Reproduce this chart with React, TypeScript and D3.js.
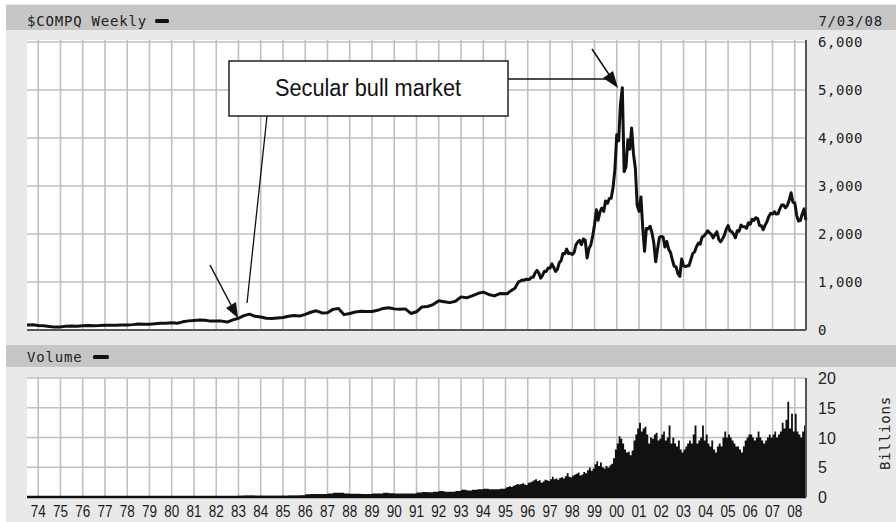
import React from "react";
import * as d3 from "d3";

// Nasdaq composite, quarterly from Jul 1973 to Oct 1994
const quarterlyPrice = [
  105, 110,
  95, 90, 75, 60,
  65, 80, 85, 80,
  90, 92, 90, 92,
  98, 98, 100, 102,
  104, 112, 125, 118,
  120, 130, 140, 140,
  150, 140, 170, 190,
  200, 210, 205, 185,
  190, 185, 165, 210,
  245, 300, 330, 285,
  270, 245, 240, 250,
  260, 285, 300, 290,
  325, 370, 400, 355,
  360, 430, 450, 320,
  345, 375, 390, 385,
  385, 410, 450, 465,
  440, 430, 440, 345,
  380, 480, 490, 530,
  610, 590, 570, 600,
  690, 670, 710, 760,
  790, 740, 710, 760,
];

// monthly from Jan 1995 to Jun 2008
const monthlyPrice = [
  755, 793, 817, 843, 864, 933, 1001, 1020, 1043, 1036, 1059, 1052,
  1059, 1100, 1101, 1190, 1243, 1185, 1081, 1141, 1226, 1221, 1293, 1291,
  1379, 1309, 1222, 1261, 1400, 1442, 1594, 1587, 1685, 1593, 1601, 1570,
  1619, 1771, 1835, 1868, 1779, 1895, 1872, 1499, 1694, 1771, 1950, 2193,
  2505, 2288, 2461, 2542, 2471, 2686, 2638, 2739, 2746, 2966, 3336, 4069,
  3940, 4697, 5048, 3300, 3401, 3966, 3767, 4206, 3673, 3370, 2598, 2471,
  2773, 2152, 1640, 2116, 2110, 2161, 2027, 1805, 1423, 1690, 1931, 1950,
  1934, 1731, 1845, 1688, 1616, 1463, 1328, 1315, 1172, 1114, 1479, 1336,
  1321, 1338, 1341, 1464, 1596, 1623, 1735, 1810, 1787, 1932, 1960, 2003,
  2066, 2030, 1994, 1920, 1987, 2048, 1887, 1838, 1897, 1975, 2097, 2175,
  2062, 2052, 1999, 1922, 2068, 2057, 2185, 2152, 2151, 2120, 2233, 2205,
  2306, 2281, 2340, 2323, 2179, 2172, 2091, 2184, 2258, 2367, 2432, 2415,
  2464, 2416, 2422, 2525, 2605, 2603, 2546, 2596, 2701, 2859, 2661, 2652,
  2389, 2271, 2279, 2413, 2523, 2293,
];

// weekly volume in billions, quarterly from Jul 1973 to Oct 1994
const quarterlyVolume = [
  0.05, 0.05,
  0.05, 0.05, 0.05, 0.05,
  0.05, 0.05, 0.05, 0.05,
  0.05, 0.05, 0.05, 0.05,
  0.05, 0.05, 0.05, 0.05,
  0.05, 0.05, 0.05, 0.05,
  0.05, 0.05, 0.05, 0.05,
  0.05, 0.05, 0.05, 0.05,
  0.05, 0.05, 0.05, 0.05,
  0.05, 0.05, 0.05, 0.05,
  0.2, 0.25, 0.25, 0.2,
  0.2, 0.2, 0.2, 0.2,
  0.2, 0.25, 0.25, 0.3,
  0.45, 0.5, 0.5, 0.5,
  0.6, 0.7, 0.7, 0.6,
  0.55, 0.55, 0.5, 0.5,
  0.6, 0.6, 0.7, 0.65,
  0.6, 0.6, 0.6, 0.6,
  0.75, 0.85, 0.8, 0.9,
  1.0, 0.9, 0.9, 1.0,
  1.2, 1.1, 1.2, 1.3,
  1.4, 1.3, 1.3, 1.4,
];

// monthly from Jan 1995 to Jun 2008
const monthlyVolume = [
  1.6, 1.7, 1.8, 1.7, 1.9, 2.0, 2.2, 2.1, 2.2, 2.3, 2.1, 2.0,
  2.4, 2.5, 2.6, 2.8, 3.0, 2.7, 2.8, 2.4, 2.6, 2.9, 2.8, 2.7,
  3.0, 3.4, 3.0, 3.1, 2.9, 3.2, 3.3, 3.1, 3.5, 4.0, 3.4, 3.3,
  3.6, 3.8, 3.9, 4.1, 3.6, 3.8, 4.2, 4.0, 4.5, 4.9, 4.4, 4.8,
  5.5, 6.0, 5.2, 5.8, 5.0, 4.8, 5.2, 4.9, 5.3, 5.6, 6.5, 8.0,
  9.0, 10.2, 9.8, 9.0, 8.0, 7.5, 7.6, 7.0, 7.8, 9.5, 10.5, 11.5,
  12.5, 11.0, 11.5, 11.8, 10.5, 9.0, 10.0, 9.8, 10.5, 10.8, 9.5, 9.8,
  10.5, 11.0, 9.5, 10.0, 12.0, 9.0, 10.0, 9.0, 8.5, 9.5, 8.0, 7.5,
  8.0, 8.5, 9.0, 9.5, 9.0, 10.5, 12.0, 9.0, 9.5, 10.0, 12.0, 9.5,
  10.5, 9.0, 8.5, 9.5, 8.0, 7.5, 8.5, 9.0, 8.5, 10.0, 11.0, 10.0,
  10.5, 10.0, 9.5, 9.0, 8.5, 8.5, 8.0, 7.5, 8.5, 9.5, 10.0, 10.5,
  10.5, 10.0, 9.5, 10.0, 11.0, 10.0, 9.5, 9.0, 9.5, 10.0, 10.5, 10.0,
  10.5, 11.0, 10.0, 10.5, 11.0, 12.5, 11.5, 13.0, 16.0, 11.5, 14.0, 11.0,
  14.0, 11.0, 10.5, 10.0, 11.0, 12.0,
];

const yearLabels = [
  "74", "75", "76", "77", "78", "79", "80", "81", "82", "83", "84", "85",
  "86", "87", "88", "89", "90", "91", "92", "93", "94", "95", "96", "97",
  "98", "99", "00", "01", "02", "03", "04", "05", "06", "07", "08",
];
const priceTicks = [0, 1000, 2000, 3000, 4000, 5000, 6000];
const volumeTicks = [0, 5, 10, 15, 20];

const mono = "'DejaVu Sans Mono', monospace";
const gridColor = "#c0c0c0";

export default function App() {
  const left = 27, right = 806;
  const pTop = 42, pBottom = 330;
  const vTop = 378, vBottom = 497;

  const x = d3.scaleTime()
    .domain([new Date(1973, 6, 1), new Date(2008, 6, 3)])
    .range([left, right]);
  const yP = d3.scaleLinear().domain([0, 6000]).range([pBottom, pTop]);
  const yV = d3.scaleLinear().domain([0, 20]).range([vBottom, vTop]);

  const price = [
    ...quarterlyPrice.map((v, i) => ({ d: new Date(1973, 6 + 3 * i, 1), v })),
    ...monthlyPrice.map((v, i) => ({ d: new Date(1995, i + 1, 1), v })),
  ];
  const volume = [
    ...quarterlyVolume.map((v, i) => ({ d: new Date(1973, 6 + 3 * i, 1), v })),
    ...monthlyVolume.map((v, i) => ({ d: new Date(1995, i, 1), v })),
  ];
  volume.push({ d: x.domain()[1], v: monthlyVolume[monthlyVolume.length - 1] });

  const line = d3.line<any>().x(p => x(p.d)).y(p => yP(p.v));
  const area = d3.area<any>()
    .x(p => x(p.d)).y0(vBottom).y1(p => yV(p.v))
    .curve(d3.curveStepAfter);

  const years = yearLabels.map((t, i) => ({ t, xp: x(new Date(1974 + i, 0, 1)) }));

  return (
    <svg width={896} height={522} style={{ position: "absolute", left: 0, top: 0 }}>
      <rect x={0} y={0} width={896} height={522} fill="#fff" />
      <rect x={6} y={4} width={890} height={518} fill="#e9e9e9" />
      {/* header bands */}
      <rect x={6} y={5} width={890} height={25} fill="#c6c6c6" />
      <rect x={6} y={345} width={890} height={22} fill="#c6c6c6" />
      <text x={27} y={26} fontFamily={mono} fontSize={14} letterSpacing={0.8} fill="#222">$COMPQ Weekly</text>
      <rect x={155} y={19} width={14} height={4} rx={1.5} fill="#111" />
      <text x={883} y={26} fontFamily={mono} fontSize={14} letterSpacing={0.8} textAnchor="end" fill="#222">7/03/08</text>
      <text x={27} y={362} fontFamily={mono} fontSize={14} letterSpacing={0.8} fill="#222">Volume</text>
      <rect x={93} y={355} width={16} height={4} rx={1.5} fill="#111" />

      {/* price panel */}
      <rect x={left} y={pTop - 2} width={right - left} height={pBottom - pTop + 2} fill="#fff" />
      {years.map(y => (
        <line key={"pg" + y.t} x1={y.xp} x2={y.xp} y1={pTop - 2} y2={pBottom} stroke={gridColor} strokeWidth={1.6} />
      ))}
      {priceTicks.map(t => (
        <line key={"ph" + t} x1={left} x2={right} y1={yP(t)} y2={yP(t)} stroke={gridColor} strokeWidth={1.6} />
      ))}
      <line x1={left} x2={right} y1={pBottom} y2={pBottom} stroke="#555" strokeWidth={2} />
      <line x1={right} x2={right} y1={pTop - 2} y2={pBottom} stroke="#555" strokeWidth={2} />
      <path d={line(price) || ""} fill="none" stroke="#111" strokeWidth={3} strokeLinejoin="round" />
      {priceTicks.map(t => (
        <text key={"pl" + t} x={818} y={yP(t) + 5} fontFamily={mono} fontSize={14} letterSpacing={0.6} fill="#222">
          {d3.format(",")(t)}
        </text>
      ))}

      {/* volume panel */}
      <rect x={left} y={vTop} width={right - left} height={vBottom - vTop} fill="#fff" />
      {years.map(y => (
        <line key={"vg" + y.t} x1={y.xp} x2={y.xp} y1={vTop} y2={vBottom} stroke={gridColor} strokeWidth={1.6} />
      ))}
      {volumeTicks.map(t => (
        <line key={"vh" + t} x1={left} x2={right} y1={yV(t)} y2={yV(t)} stroke={gridColor} strokeWidth={1.6} />
      ))}
      <path d={area(volume) || ""} fill="#111" />
      <line x1={left} x2={right} y1={vBottom} y2={vBottom} stroke="#111" strokeWidth={2.5} />
      <line x1={right} x2={right} y1={vTop} y2={vBottom} stroke="#555" strokeWidth={2} />
      {volumeTicks.map(t => (
        <text key={"vl" + t} x={818} y={yV(t) + 6} fontFamily="'Liberation Sans', Arial, sans-serif" fontSize={16} fill="#222">
          {t}
        </text>
      ))}
      <text transform="translate(890,433) rotate(-90)" textAnchor="middle" fontFamily={mono} fontSize={14} letterSpacing={0.8} fill="#222">Billions</text>
      {years.map(y => (
        <text key={"yl" + y.t} x={y.xp} y={517} textAnchor="middle" fontFamily="'Liberation Sans', sans-serif" fontSize={16} textLength={15} lengthAdjust="spacingAndGlyphs" fill="#1a1a1a">
          {y.t}
        </text>
      ))}

      {/* annotation */}
      <line x1={508} y1={79} x2={606} y2={79} stroke="#111" strokeWidth={1.5} />
      <line x1={592} y1={49} x2={610} y2={76} stroke="#111" strokeWidth={1.5} />
      <polygon points="618,88 603,78 613,71" fill="#111" />
      <line x1={210} y1={265} x2={231} y2={305} stroke="#111" strokeWidth={1.5} />
      <polygon points="238,318 226,308 236,302" fill="#111" />
      <line x1={267} y1={116} x2={247} y2={303} stroke="#111" strokeWidth={1.3} />
      <rect x={229} y={61} width={279} height={55} fill="#fff" stroke="#222" strokeWidth={1.5} />
      <text x={368} y={96} textAnchor="middle" fontFamily="'Liberation Sans', sans-serif" fontSize={23} textLength={186} lengthAdjust="spacingAndGlyphs" fill="#111">
        Secular bull market
      </text>
    </svg>
  );
}
